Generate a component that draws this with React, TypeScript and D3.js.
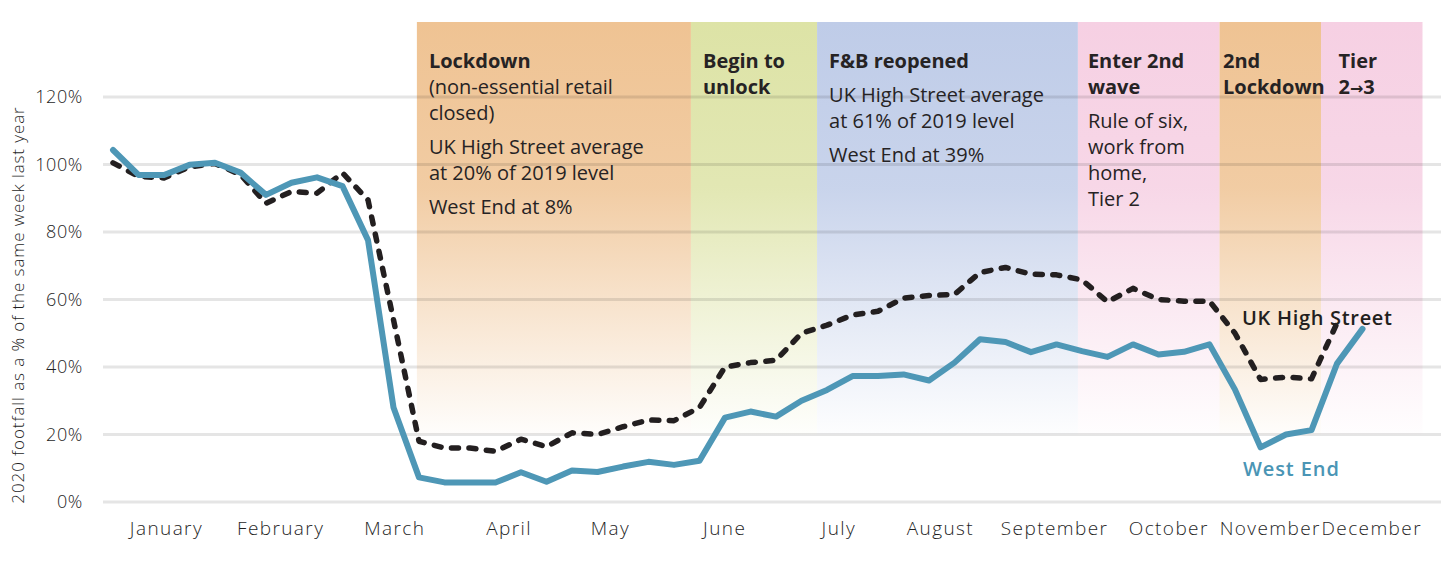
import * as d3 from "d3";

const W = 1447;
const H = 575;

// retail (4-4-5) calendar: weeks per month
const months = ["January", "February", "March", "April", "May", "June", "July", "August", "September", "October", "November", "December"];
const monthWeeks = [5, 4, 5, 4, 4, 5, 4, 4, 5, 4, 4, 4];

const yTicks = [0, 20, 40, 60, 80, 100, 120];

// weekly footfall, % of same week 2019
const westEnd = [
  104.3, 96.9, 96.9, 99.9, 100.5, 97.6, 91, 94.6, 96.2, 93.6,
  77.6, 28, 7.3, 5.8, 5.8, 5.8, 8.8, 6.0, 9.3, 8.9,
  10.5, 11.9, 11.0, 12.2, 25.0, 26.8, 25.3, 30, 33.2, 37.3,
  37.3, 37.8, 36, 41.3, 48.2, 47.4, 44.4, 46.7, 44.7, 43,
  46.7, 43.7, 44.5, 46.7, 33.3, 16.2, 20, 21.3, 41, 51.3,
];
const highStreet = [
  100.5, 96.5, 96, 99.3, 100.3, 97, 88.5, 92, 91.5, 97.5,
  89.5, 54, 18, 16, 16, 15, 18.6, 16.4, 20.5, 20,
  22.3, 24.3, 24.1, 28, 40, 41.3, 42, 50, 52.4, 55.4,
  56.5, 60.4, 61.2, 61.5, 68, 69.5, 67.5, 67.3, 65.8, 59.3,
  63.3, 60, 59.5, 59.5, 50, 36.3, 37, 36.5, 53,
];

// restriction phases, in calendar weeks
const phaseStart = [12.37, 23.17, 28.14, 38.42, 44, 48];
const phaseEnd = [23.17, 28.14, 38.42, 44, 48, 52];
const phaseColors = ["#EFC393", "#DDE3A6", "#BFCCE8", "#F6D0E3", "#EFC393", "#F6D0E3"];
const phaseText = [
  ["#Lockdown", "(non-essential retail", "closed)", "", "UK High Street average", "at 20% of 2019 level", "", "West End at 8%"],
  ["#Begin to", "#unlock"],
  ["#F&B reopened", "", "UK High Street average", "at 61% of 2019 level", "", "West End at 39%"],
  ["#Enter 2nd", "#wave", "", "Rule of six,", "work from", "home,", "Tier 2"],
  ["#2nd", "#Lockdown"],
  ["#Tier", "#2\u21923"],
];
const phaseTextDx = [12, 12, 12, 10, 3.5, 17.5];

const xGrid = d3.scaleLinear().domain([0, 52]).range([103, 1422.5]);
const xData = d3.scaleLinear().domain([0, 49]).range([113, 1362.5]);
const y = d3.scaleLinear().domain([0, 120]).range([502, 97]);

const monthStarts = d3.cumsum([0, ...monthWeeks.slice(0, -1)]);

const line = d3
  .line<number>()
  .x((d, i) => xData(i))
  .y((d) => y(d));

const textFont = "'Open Sans', sans-serif";
const axisFont = "'Open Sans', sans-serif";

function PhaseLabel({ lines, x }: { lines: string[]; x: number }) {
  let yy = 68;
  const out: any[] = [];
  lines.forEach((l, i) => {
    if (l === "") {
      yy += 8;
      return;
    }
    const bold = l.startsWith("#");
    const s = bold ? l.slice(1) : l;
    const parts = s.split("\u2192");
    out.push(
      <text key={i} x={x} y={yy} fontFamily={textFont} fontSize={20} fontWeight={bold ? 700 : 400} fill="#262324">
        {parts.length > 1 ? (
          <>
            {parts[0]}
            <tspan fontFamily="'DejaVu Sans'" fontSize={16}>{"\u2192"}</tspan>
            {parts[1]}
          </>
        ) : (
          s
        )}
      </text>
    );
    yy += 26;
  });
  return <g>{out}</g>;
}

export default function App() {
  const boxTop = 22;
  const boxBottom = y(20);
  return (
    <svg width={W} height={H} style={{ position: "absolute", left: 0, top: 0 }}>
      <defs>
        {phaseColors.map((c, i) => (
          <linearGradient key={i} id={`g${i}`} x1="0" y1="0" x2="0" y2="1">
            <stop offset="0" stopColor={c} stopOpacity={1} />
            <stop offset="0.4" stopColor={c} stopOpacity={0.85} />
            <stop offset="1" stopColor={c} stopOpacity={0.03} />
          </linearGradient>
        ))}
      </defs>
      <rect width={W} height={H} fill="#fff" />

      {phaseStart.map((s, i) => (
        <rect key={i} x={xGrid(s)} y={boxTop} width={xGrid(phaseEnd[i]) - xGrid(s)} height={boxBottom - boxTop} fill={`url(#g${i})`} />
      ))}

      {yTicks.map((t) => (
        <line key={t} x1={103} x2={1441} y1={y(t)} y2={y(t)} stroke="rgba(0,0,0,0.1)" strokeWidth={3} />
      ))}
      {monthStarts.map((w, i) => (
        <line key={i} x1={xGrid(w)} x2={xGrid(w)} y1={8} y2={H} stroke="rgba(0,0,0,0.1)" strokeWidth={3} />
      ))}

      {yTicks.map((t) => (
        <text key={t} x={83} y={y(t)} dy="0.36em" textAnchor="end" fontFamily={axisFont} fontWeight={300} fontSize={18} letterSpacing={0.6} fill="#1f1f1f">
          {t}%
        </text>
      ))}
      <text
        transform={`translate(24,305) rotate(-90)`}
        textAnchor="middle"
        fontFamily={axisFont}
        fontWeight={300}
        fontSize={17}
        letterSpacing={0.9}
        fill="#1f1f1f"
      >
        2020 footfall as a % of the same week last year
      </text>

      {months.map((m, i) => (
        <text
          key={m}
          x={(xGrid(monthStarts[i]) + xGrid(monthStarts[i] + monthWeeks[i])) / 2}
          y={535}
          textAnchor="middle"
          fontFamily={axisFont}
          fontWeight={300}
          fontSize={19}
          letterSpacing={1.4}
          fill="#1f1f1f"
        >
          {m}
        </text>
      ))}

      {phaseText.map((lines, i) => (
        <PhaseLabel key={i} lines={lines} x={xGrid(phaseStart[i]) + phaseTextDx[i]} />
      ))}

      <text x={1242} y={325} fontFamily={axisFont} fontWeight={600} fontSize={20} letterSpacing={0.7} fill="#231f20">
        UK High Street
      </text>
      <text x={1243} y={476} fontFamily={axisFont} fontWeight={600} fontSize={20} letterSpacing={0.9} fill="#4A95B5">
        West End
      </text>

      <path
        d={line(highStreet) || ""}
        fill="none"
        stroke="#231f20"
        strokeWidth={5.5}
        strokeDasharray="7 10.5"
        strokeLinecap="round"
        strokeLinejoin="round"
      />
      <path d={line(westEnd) || ""} fill="none" stroke="#4E97B6" strokeWidth={6} strokeLinejoin="round" strokeLinecap="round" />
    </svg>
  );
}
